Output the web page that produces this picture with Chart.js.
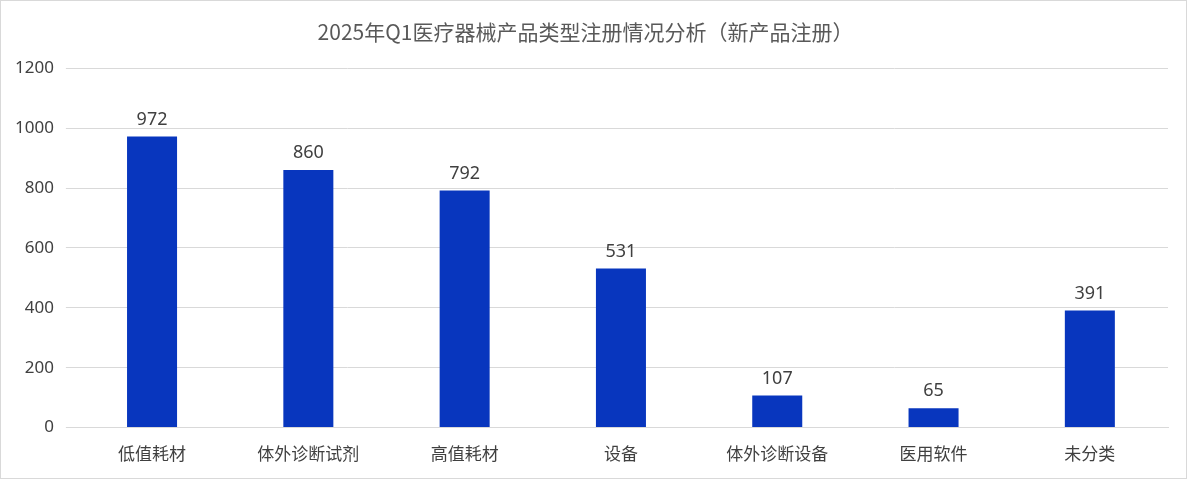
<!DOCTYPE html>
<html><head><meta charset="utf-8">
<script src="https://cdn.jsdelivr.net/npm/chart.js@4"></script>
<style>html,body{margin:0;padding:0;background:#fff}
#wrap{position:absolute;left:0;top:0;width:1185px;height:477px;border:1px solid #d9d9d9}</style>
</head><body><div id="wrap"><canvas id="c"></canvas></div>
<script>
const categories=["低值耗材","体外诊断试剂","高值耗材","设备","体外诊断设备","医用软件","未分类"];
const values=[972,860,792,531,107,65,391];
const titleText="2025年Q1医疗器械产品类型注册情况分析（新产品注册）";
const labelPlugin={id:'lbl',afterDatasetsDraw(ch){const ctx=ch.ctx;const m=ch.getDatasetMeta(0);
ctx.save();ctx.font='18px "Noto Sans","Noto Sans CJK SC",sans-serif';ctx.fillStyle='#404040';ctx.textAlign='center';ctx.textBaseline='bottom';
m.data.forEach((b,i)=>ctx.fillText(values[i],b.x,b.y-8));ctx.restore();}};
new Chart(document.getElementById('c'),{type:'bar',
data:{labels:categories,datasets:[{data:values,backgroundColor:'#0836BE',barPercentage:0.32,categoryPercentage:1}]},
options:{responsive:true,maintainAspectRatio:false,animation:false,
layout:{padding:{left:2,right:18,top:4,bottom:6}},
plugins:{legend:{display:false},tooltip:{enabled:false},
title:{display:true,text:titleText,color:'#595959',font:{size:21,family:'"Noto Sans CJK SC",sans-serif',weight:'normal'},padding:{top:14,bottom:24}}},
scales:{x:{grid:{display:false},border:{color:'#d9d9d9'},ticks:{color:'#404040',padding:8,font:{size:17,family:'"Noto Sans CJK SC",sans-serif'}}},
y:{min:0,max:1200,ticks:{stepSize:200,color:'#404040',padding:12,callback:v=>String(v),font:{size:17,family:'"Noto Sans",sans-serif'}},grid:{color:'#d9d9d9'},border:{display:false}}}},
plugins:[labelPlugin]});
</script></body></html>
